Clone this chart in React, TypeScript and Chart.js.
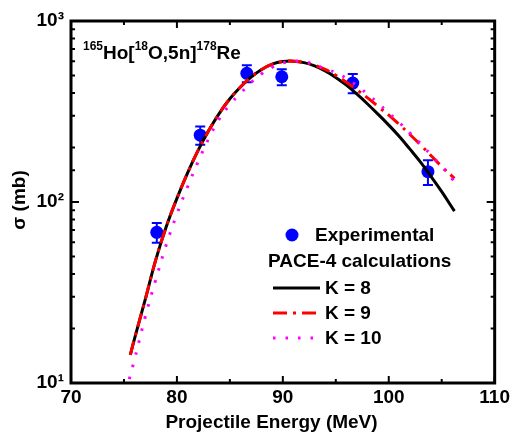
import { useEffect, useRef } from 'react';
import { Chart, registerables } from 'chart.js';

Chart.register(...registerables);

// Experimental data
const expEnergy = [78.1, 82.2, 86.6, 89.9, 96.6, 103.7];
const expSigma = [68, 234, 514, 492, 454, 147];
const expError = [8.5, 27, 55, 50, 55, 23];

// PACE-4 calculations
const k8Energy = [75.6, 76, 77, 78, 79, 80, 81, 82, 83, 84, 85, 86, 87, 88, 89, 90, 91, 92, 93, 94, 95, 96, 97, 98, 99, 100, 101, 102, 103, 104, 105, 106.2];
const k8Sigma = [14.3, 17.6, 28.8, 47.9, 73.3, 104.7, 144.5, 192.8, 248, 309, 372, 432, 490, 540, 578, 597, 600, 589, 565, 530, 488, 442, 394, 348, 305, 266, 230, 196, 166, 138, 114, 89];

const k9Energy = [75.6, 76, 77, 78, 79, 80, 81, 82, 83, 84, 85, 86, 87, 88, 89, 90, 91, 92, 93, 94, 95, 96, 97, 98, 99, 100, 101, 102, 103, 104, 105, 106.2];
const k9Sigma = [14.3, 17.6, 28.8, 47.9, 73.3, 104.7, 144.5, 192.8, 248, 309, 372, 432, 490, 540, 578, 597, 600, 590, 569, 540, 501, 459, 417, 376, 337, 302, 268, 236, 207, 180, 157, 135];

const k10Energy = [75.5, 76, 77, 78, 79, 80, 81, 82, 83, 84, 85, 86, 87, 88, 89, 90, 91, 92, 93, 94, 95, 96, 97, 98, 99, 100, 101, 102, 103, 104, 105, 106.1];
const k10Sigma = [10.5, 13.5, 23.1, 37.2, 58.2, 85.9, 121, 167, 224, 288, 345, 398, 457, 511, 555, 586, 600, 596, 575, 543, 519, 482, 440, 394, 351, 310, 275, 240, 210, 182, 157, 132];

// Axis labels
const xTickLabels = [70, 80, 90, 100, 110];
const yTickLabels = ['10\u00B9', '10\u00B2', '10\u00B3'];
const xTitle = 'Projectile Energy (MeV)';
const yTitle = '\u03C3 (mb)';
const legendHeader = 'PACE-4 calculations';

const FONT = '"Liberation Sans", Arial, sans-serif';

const toPoints = (xs: number[], ys: number[]) => xs.map((x, i) => ({ x, y: ys[i] }));

const customPlugin = {
  id: 'customDraw',
  beforeDatasetsDraw(chart: any) {
    const ctx = chart.ctx;
    const meta = chart.getDatasetMeta(0);
    const ys = chart.scales.y;
    ctx.save();
    ctx.strokeStyle = '#0000ff';
    ctx.lineWidth = 2;
    meta.data.forEach((pt: any, i: number) => {
      const x = pt.x;
      const yT = ys.getPixelForValue(expSigma[i] + expError[i]);
      const yB = ys.getPixelForValue(expSigma[i] - expError[i]);
      ctx.beginPath();
      ctx.moveTo(x, yT);
      ctx.lineTo(x, yB);
      ctx.moveTo(x - 5, yT);
      ctx.lineTo(x + 5, yT);
      ctx.moveTo(x - 5, yB);
      ctx.lineTo(x + 5, yB);
      ctx.stroke();
    });
    ctx.restore();
  },
  afterDraw(chart: any) {
    const ctx = chart.ctx;
    const { left, right, top, bottom } = chart.chartArea;
    const xs = chart.scales.x;
    const ys = chart.scales.y;
    ctx.save();
    ctx.strokeStyle = '#000';
    ctx.lineWidth = 2;
    xs.ticks.forEach((t: any) => {
      const px = xs.getPixelForValue(t.value);
      const major = xTickLabels.includes(t.value);
      const len = major ? 7 : 4;
      ctx.beginPath();
      ctx.moveTo(px, bottom);
      ctx.lineTo(px, bottom - len);
      ctx.moveTo(px, top);
      ctx.lineTo(px, top + len);
      ctx.stroke();
    });
    ys.ticks.forEach((t: any) => {
      const py = ys.getPixelForValue(t.value);
      const e = Math.log10(t.value);
      const major = Math.abs(e - Math.round(e)) < 1e-6;
      const len = major ? 8 : 4;
      ctx.beginPath();
      ctx.moveTo(left, py);
      ctx.lineTo(left + len, py);
      ctx.moveTo(right, py);
      ctx.lineTo(right - len, py);
      ctx.stroke();
    });
    ctx.lineWidth = 3;
    ctx.strokeRect(left, top, right - left, bottom - top);

    // axis titles
    ctx.fillStyle = '#000';
    ctx.font = `bold 19px ${FONT}`;
    ctx.textAlign = 'center';
    ctx.textBaseline = 'alphabetic';
    ctx.fillText(xTitle, 271.5, 428);
    ctx.save();
    ctx.translate(25, 200);
    ctx.rotate(-Math.PI / 2);
    ctx.fillText(yTitle, 0, 0);
    ctx.restore();

    // reaction annotation
    const parts: [string, boolean][] = [['165', true], ['Ho[', false], ['18', true], ['O,5n]', false], ['178', true], ['Re', false]];
    let cx = 83;
    ctx.textAlign = 'left';
    parts.forEach(([s, sup]) => {
      ctx.font = sup ? `bold 12px ${FONT}` : `bold 19px ${FONT}`;
      ctx.fillText(s, cx, sup ? 50 : 59);
      cx += ctx.measureText(s).width;
    });

    // legend
    ctx.font = `bold 19px ${FONT}`;
    ctx.textBaseline = 'middle';
    const ds = chart.data.datasets;
    ctx.fillStyle = ds[0].pointBackgroundColor;
    ctx.beginPath();
    ctx.arc(292, 235, 6.5, 0, Math.PI * 2);
    ctx.fill();
    ctx.fillStyle = '#000';
    ctx.fillText(ds[0].label, 315, 236);
    ctx.fillText(legendHeader, 268, 262);
    const rows = [288, 313, 338];
    [1, 2, 3].forEach((di, r) => {
      const d = ds[di];
      const y = rows[r];
      ctx.save();
      ctx.strokeStyle = d.borderColor;
      ctx.lineWidth = d.borderWidth;
      ctx.setLineDash(d.borderDash || []);
      ctx.beginPath();
      ctx.moveTo(273, y);
      ctx.lineTo(320, y);
      ctx.stroke();
      ctx.restore();
      ctx.fillStyle = '#000';
      ctx.fillText(d.label, 325, y + 1);
    });
    ctx.restore();
  },
};

export default function App() {
  const ref = useRef<HTMLCanvasElement | null>(null);
  useEffect(() => {
    if (!ref.current) return;
    const tickFont = { family: FONT, size: 19, weight: 'bold' as const };
    const chart = new Chart(ref.current, {
      type: 'line',
      data: {
        datasets: [
          {
            label: 'Experimental',
            data: toPoints(expEnergy, expSigma),
            showLine: false,
            pointRadius: 6.5,
            pointBackgroundColor: '#0000ff',
            pointBorderColor: '#0000ff',
            pointBorderWidth: 0,
            borderColor: '#0000ff',
            order: 4,
          } as any,
          {
            label: 'K = 8',
            data: toPoints(k8Energy, k8Sigma),
            borderColor: '#000000',
            borderWidth: 3,
            pointRadius: 0,
            tension: 0.4,
            order: 3,
          },
          {
            label: 'K = 9',
            data: toPoints(k9Energy, k9Sigma),
            borderColor: '#ff0000',
            borderWidth: 3,
            borderDash: [14, 6, 3, 6],
            pointRadius: 0,
            tension: 0.4,
            order: 2,
          },
          {
            label: 'K = 10',
            data: toPoints(k10Energy, k10Sigma),
            borderColor: '#ff00ff',
            borderWidth: 3,
            borderDash: [2.5, 10],
            pointRadius: 0,
            tension: 0.4,
            order: 1,
          },
        ],
      },
      options: {
        animation: false,
        responsive: false,
        layout: { padding: { top: 21, right: 18, left: 0, bottom: 0 } },
        plugins: { legend: { display: false }, tooltip: { enabled: false } },
        scales: {
          x: {
            type: 'linear',
            min: 70,
            max: 110,
            grid: { display: false, drawTicks: false },
            border: { display: false },
            ticks: {
              stepSize: 5,
              autoSkip: false,
              maxRotation: 0,
              padding: 3,
              color: '#000',
              font: tickFont,
              callback: (v: any) => (xTickLabels.includes(Number(v)) ? String(v) : ''),
            },
            afterFit: (s: any) => {
              s.height = 56;
            },
          },
          y: {
            type: 'logarithmic',
            min: 10,
            max: 1000,
            grid: { display: false, drawTicks: false },
            border: { display: false },
            ticks: {
              autoSkip: false,
              padding: 7,
              color: '#000',
              font: tickFont,
              callback: (v: any) => {
                const e = Math.log10(Number(v));
                const r = Math.round(e);
                return Math.abs(e - r) < 1e-6 ? yTickLabels[r - 1] : '';
              },
            },
            afterFit: (s: any) => {
              s.width = 71;
            },
          },
        },
      },
      plugins: [customPlugin],
    });
    return () => chart.destroy();
  }, []);
  return (
    <div style={{ position: 'absolute', left: 0, top: 0, width: 513, height: 439, background: '#fff' }}>
      <canvas ref={ref} width={513} height={439} style={{ display: 'block' }} />
    </div>
  );
}
